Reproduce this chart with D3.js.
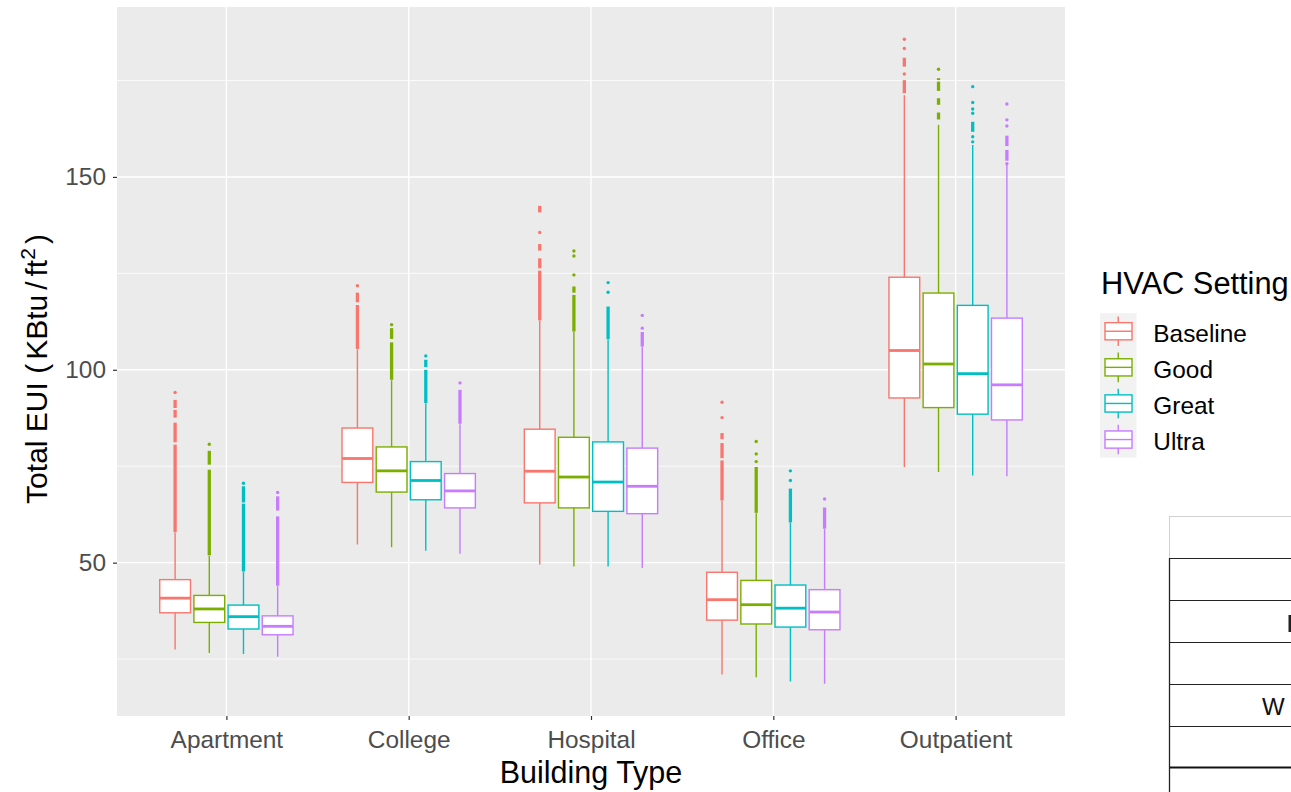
<!DOCTYPE html>
<html>
<head>
<meta charset="utf-8">
<script src="https://cdn.jsdelivr.net/npm/d3@7"></script>
<style>
  html, body { margin: 0; padding: 0; background: #ffffff; }
  svg { display: block; font-family: "Liberation Sans", Arial, sans-serif; }
</style>
</head>
<body>
<svg id="chart" width="1291" height="792"></svg>
<script>
// ---------- DATA ----------
const categories = ["Apartment", "College", "Hospital", "Office", "Outpatient"];
const settings = ["Baseline", "Good", "Great", "Ultra"];
const settingColors = ["#F8766D", "#7CAE00", "#00BFC4", "#C77CFF"];
const yTickValues = [50, 100, 150];
const yMinorValues = [25, 75, 125, 175];

// rows = categories, columns = settings (Baseline, Good, Great, Ultra)
const lowerWhisker = [
  [27.5, 26.6, 26.3, 25.6],
  [54.7, 54.0, 53.1, 52.3],
  [49.5, 49.0, 49.0, 48.6],
  [21.0, 20.3, 19.2, 18.6],
  [74.8, 73.5, 72.6, 72.4]
];
const lowerQuartile = [
  [37.0, 34.5, 32.8, 31.3],
  [70.8, 68.3, 66.3, 64.2],
  [65.5, 64.2, 63.3, 62.7],
  [35.1, 34.1, 33.3, 32.6],
  [92.7, 90.2, 88.5, 87.0]
];
const medianValue = [
  [40.8, 38.0, 36.0, 33.5],
  [77.0, 73.8, 71.3, 68.6],
  [73.7, 72.2, 70.9, 69.8],
  [40.4, 39.1, 38.2, 37.2],
  [105.0, 101.5, 99.0, 96.1]
];
const upperQuartile = [
  [45.6, 41.5, 39.0, 36.2],
  [84.9, 80.0, 76.2, 73.1],
  [84.6, 82.5, 81.3, 79.7],
  [47.5, 45.4, 44.2, 43.0],
  [124.0, 119.9, 116.7, 113.4]
];
const upperWhisker = [
  [57.8, 51.8, 47.6, 43.9],
  [105.3, 97.3, 91.3, 85.9],
  [112.7, 109.8, 107.8, 105.9],
  [66.0, 62.8, 60.3, 58.7],
  [171.2, 163.5, 158.3, 153.1]
];

// isolated outliers: [category index, setting index, value]
const outlierPoints = [
  [0,0,94.1],[0,1,80.7],[0,2,70.6],[0,3,68.2],
  [1,0,121.8],[1,1,111.7],[1,2,103.6],[1,3,96.6],
  [2,0,135.6],[2,1,130.8],[2,1,129.5],[2,1,124.6],[2,2,122.6],[2,2,120.1],[2,3,114.1],[2,3,110.8],
  [3,0,91.6],[3,0,87.6],[3,1,81.4],[3,1,78.2],[3,1,76.2],[3,2,73.8],[3,2,71.3],[3,3,66.5],
  [4,0,185.7],[4,0,183.3],[4,0,176.7],[4,1,177.9],
  [4,2,173.4],[4,2,169.3],[4,2,167.6],[4,2,166.5],[4,2,160.4],[4,2,159.1],
  [4,3,168.9],[4,3,164.8],[4,3,163.2],[4,3,153.4]
];
// dense clusters of overlapping outliers: [category index, setting index, from, to]
const outlierClusters = [
  [0,0,90.1,92.2],[0,0,87.6,89.6],[0,0,81.2,86.3],[0,0,57.9,80.6],
  [0,1,75.4,79.0],[0,1,51.9,74.1],
  [0,2,65.6,69.8],[0,2,47.7,65.3],
  [0,3,63.5,67.2],[0,3,44.0,62.0],
  [1,0,117.5,120.0],[1,0,105.4,116.8],
  [1,1,108.0,110.8],[1,1,97.4,107.1],
  [1,2,100.7,102.6],[1,2,91.4,100.0],
  [1,3,86.0,94.8],
  [2,0,140.8,142.5],[2,0,130.9,132.6],[2,0,126.3,128.9],[2,0,112.8,125.7],
  [2,1,120.0,121.6],[2,1,109.9,119.4],
  [2,2,107.9,116.4],
  [2,3,106.0,109.8],
  [3,0,82.0,83.6],[3,0,77.1,81.0],[3,0,66.1,76.5],
  [3,1,62.9,74.8],
  [3,2,60.4,69.2],
  [3,3,58.8,64.3],
  [4,0,178.6,180.9],[4,0,171.7,175.1],
  [4,1,175.1,175.6],[4,1,172.3,174.7],[4,1,168.7,170.4],[4,1,164.9,166.7],
  [4,2,161.7,164.3],
  [4,3,158.0,160.7],[4,3,154.2,157.0]
];

const xAxisTitle = "Building Type";
const legendTitle = "HVAC Setting";

// ---------- LAYOUT ----------
const svg = d3.select("#chart");
const panel = { left: 117, right: 1065, top: 7, bottom: 716 };
const font = '"Liberation Sans", Arial, sans-serif';

const allVals = [].concat(...lowerWhisker, ...upperWhisker,
  outlierPoints.map(d => d[2]), outlierClusters.map(d => d[3]));
const vMin = d3.min(allVals), vMax = d3.max(allVals);
const pad = (vMax - vMin) * 0.05;

const y = d3.scaleLinear().domain([vMin - pad, vMax + pad]).range([panel.bottom, panel.top]);
const x = d3.scalePoint().domain(categories).range([panel.left, panel.right]).padding(0.6);
const dodge = d3.scaleBand().domain(settings)
  .range([-0.375 * x.step(), 0.375 * x.step()]).padding(0);
const boxW = dodge.bandwidth() * 0.9;
const color = d3.scaleOrdinal().domain(settings).range(settingColors);

// panel background
svg.append("rect")
  .attr("x", panel.left).attr("y", panel.top)
  .attr("width", panel.right - panel.left).attr("height", panel.bottom - panel.top)
  .attr("fill", "#EBEBEB");

// grid
const grid = svg.append("g");
grid.selectAll(".minor").data(yMinorValues).join("line")
  .attr("x1", panel.left).attr("x2", panel.right)
  .attr("y1", d => y(d)).attr("y2", d => y(d))
  .attr("stroke", "#ffffff").attr("stroke-width", 0.8);
grid.selectAll(".major").data(yTickValues).join("line")
  .attr("x1", panel.left).attr("x2", panel.right)
  .attr("y1", d => y(d)).attr("y2", d => y(d))
  .attr("stroke", "#ffffff").attr("stroke-width", 1.4);
grid.selectAll(".vmajor").data(categories).join("line")
  .attr("x1", d => x(d)).attr("x2", d => x(d))
  .attr("y1", panel.top).attr("y2", panel.bottom)
  .attr("stroke", "#ffffff").attr("stroke-width", 1.4);

// build box records
const boxes = [];
categories.forEach((c, ci) => {
  settings.forEach((s, si) => {
    boxes.push({
      c, s, ci, si,
      lo: lowerWhisker[ci][si], q1: lowerQuartile[ci][si], med: medianValue[ci][si],
      q3: upperQuartile[ci][si], hi: upperWhisker[ci][si]
    });
  });
});
const cx = d => x(d.c) + dodge(d.s) + dodge.bandwidth() / 2;

const marks = svg.append("g");
// whiskers
marks.selectAll(".wlo").data(boxes).join("line")
  .attr("x1", cx).attr("x2", cx)
  .attr("y1", d => y(d.lo)).attr("y2", d => y(d.q1))
  .attr("stroke", d => color(d.s)).attr("stroke-width", 1.4);
marks.selectAll(".whi").data(boxes).join("line")
  .attr("x1", cx).attr("x2", cx)
  .attr("y1", d => y(d.q3)).attr("y2", d => y(d.hi))
  .attr("stroke", d => color(d.s)).attr("stroke-width", 1.4);

// outlier clusters and points
const clusterRecs = outlierClusters.map(d => ({ c: categories[d[0]], s: settings[d[1]], a: d[2], b: d[3] }));
marks.selectAll(".oc").data(clusterRecs).join("line")
  .attr("x1", cx).attr("x2", cx)
  .attr("y1", d => y(d.a)).attr("y2", d => y(d.b))
  .attr("stroke", d => color(d.s)).attr("stroke-width", 3.3);
const pointRecs = outlierPoints.map(d => ({ c: categories[d[0]], s: settings[d[1]], v: d[2] }));
marks.selectAll(".op").data(pointRecs).join("circle")
  .attr("cx", cx).attr("cy", d => y(d.v)).attr("r", 1.7)
  .attr("fill", d => color(d.s));

// boxes
marks.selectAll(".box").data(boxes).join("rect")
  .attr("x", d => cx(d) - boxW / 2).attr("width", boxW)
  .attr("y", d => y(d.q3)).attr("height", d => y(d.q1) - y(d.q3))
  .attr("fill", "#ffffff").attr("stroke", d => color(d.s)).attr("stroke-width", 1.4);
marks.selectAll(".med").data(boxes).join("line")
  .attr("x1", d => cx(d) - boxW / 2).attr("x2", d => cx(d) + boxW / 2)
  .attr("y1", d => y(d.med)).attr("y2", d => y(d.med))
  .attr("stroke", d => color(d.s)).attr("stroke-width", 2.8);

// axes
const yAxis = svg.append("g").attr("transform", `translate(${panel.left},0)`)
  .call(d3.axisLeft(y).tickValues(yTickValues).tickSize(4).tickPadding(7));
const xAxis = svg.append("g").attr("transform", `translate(0,${panel.bottom})`)
  .call(d3.axisBottom(x).tickSize(4).tickPadding(11));
[yAxis, xAxis].forEach(a => {
  a.select(".domain").remove();
  a.selectAll(".tick line").attr("stroke", "#333333").attr("stroke-width", 1.2);
  a.selectAll(".tick text").attr("fill", "#4D4D4D")
    .style("font-size", "24.4px").style("font-family", font);
});

// axis titles
svg.append("text")
  .attr("x", (panel.left + panel.right) / 2).attr("y", 783)
  .attr("text-anchor", "middle").attr("fill", "#000")
  .style("font-size", "30.5px").style("font-family", font)
  .text(xAxisTitle);

const yt = svg.append("text")
  .attr("transform", `translate(46.5,369) rotate(-90)`)
  .attr("text-anchor", "middle").attr("fill", "#000")
  .style("font-size", "30px").style("font-family", font);
yt.append("tspan").text("Total EUI (");
yt.append("tspan").attr("dx", 4).text("KBtu");
yt.append("tspan").attr("dx", 5).text("/");
yt.append("tspan").attr("dx", 5).text("ft");
yt.append("tspan").attr("dy", -12).style("font-size", "21px").text("2");
yt.append("tspan").attr("dy", 12).attr("dx", 4).text(")");

// legend
const lg = svg.append("g");
lg.append("text").attr("x", 1101).attr("y", 294)
  .attr("fill", "#000").style("font-size", "30.8px").style("font-family", font)
  .text(legendTitle);
const keyH = 36.1, keyTop = 313.2, keyX = 1100, keyW = 36.5;
lg.append("rect").attr("x", keyX).attr("y", keyTop)
  .attr("width", keyW).attr("height", keyH * settings.length).attr("fill", "#F2F2F2");
const keys = lg.selectAll(".key").data(settings).join("g")
  .attr("transform", (d, i) => `translate(${keyX},${keyTop + i * keyH + keyH / 2})`);
keys.append("line").attr("x1", keyW / 2).attr("x2", keyW / 2)
  .attr("y1", -keyH * 0.41).attr("y2", keyH * 0.41)
  .attr("stroke", d => color(d)).attr("stroke-width", 1.4);
keys.append("rect").attr("x", 5).attr("width", keyW - 9.5)
  .attr("y", -8.6).attr("height", 17.2)
  .attr("fill", "#ffffff").attr("stroke", d => color(d)).attr("stroke-width", 1.4);
keys.append("line").attr("x1", 5).attr("x2", keyW - 4.5).attr("y1", 0).attr("y2", 0)
  .attr("stroke", d => color(d)).attr("stroke-width", 1.4);
keys.append("text").attr("x", 53.3).attr("y", 0).attr("dy", "0.43em")
  .attr("fill", "#000").style("font-size", "24.4px").style("font-family", font)
  .text(d => d);

// fragment of a neighbouring table visible at the bottom-right corner
const tb = svg.append("g");
const rowLines = [558, 600, 642, 684, 726];
tb.append("line").attr("x1", 1169.5).attr("x2", 1291).attr("y1", 516.5).attr("y2", 516.5)
  .attr("stroke", "#d0d0d0").attr("stroke-width", 1);
tb.append("line").attr("x1", 1169.5).attr("x2", 1169.5).attr("y1", 516).attr("y2", 558)
  .attr("stroke", "#d0d0d0").attr("stroke-width", 1);
tb.append("line").attr("x1", 1169.5).attr("x2", 1169.5).attr("y1", 558).attr("y2", 792)
  .attr("stroke", "#222").attr("stroke-width", 1.3);
tb.selectAll(".row").data(rowLines).join("line")
  .attr("x1", 1169).attr("x2", 1291).attr("y1", d => d + 0.5).attr("y2", d => d + 0.5)
  .attr("stroke", "#222").attr("stroke-width", 1.2);
tb.append("line").attr("x1", 1170).attr("x2", 1291).attr("y1", 767.5).attr("y2", 767.5)
  .attr("stroke", "#111").attr("stroke-width", 2.2);
tb.append("text").attr("x", 1262).attr("y", 715).attr("fill", "#111")
  .style("font-size", "24px").style("font-family", font).text("W");
// edge of a clipped glyph in the neighbouring table
tb.append("rect").attr("x", 1288.5).attr("y", 615).attr("width", 2.5).attr("height", 17)
  .attr("fill", "#222");
</script>
</body>
</html>
